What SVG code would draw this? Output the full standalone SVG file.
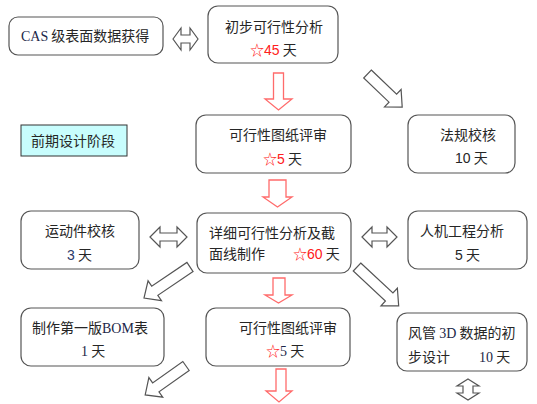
<svg xmlns="http://www.w3.org/2000/svg" width="537" height="404" viewBox="0 0 537 404">
<style>
.box{fill:#fff;stroke:#555;stroke-width:1.2}
.t{font-family:"Noto Sans CJK SC","Liberation Sans",sans-serif;font-size:14px;fill:#262626}
.r{fill:#ff2020}
.s{font-family:"Liberation Serif","Noto Sans CJK SC",serif;fill:#1c2748}
.n{font-family:"Liberation Sans",sans-serif}
.ra{fill:#fff;stroke:#ff6b6b;stroke-width:1.3}
.ga{fill:#fff;stroke:#555;stroke-width:1.2}
</style>
<rect width="537" height="404" fill="#fff"/>
<g id="connectors">
<path class="ga" d="M173,39 L181,28 L181,35 L190,35 L190,28 L198,39 L190,50 L190,43 L181,43 L181,50 Z"/>
<path class="ga" d="M150,237 L160,227 L160,233 L177,233 L177,227 L187,237 L177,247 L177,241 L160,241 L160,247 Z"/>
<path class="ga" d="M362,237 L372,227 L372,233 L387,233 L387,227 L397,237 L387,247 L387,241 L372,241 L372,247 Z"/>
<path class="ga" d="M468,379 L479,386 L473,386 L473,393 L479,393 L468,400 L457,393 L463,393 L463,386 L457,386 Z"/>
<path class="ra" d="M273.5,73 L283.5,73 L283.5,99 L292,99 L278.5,110 L265,99 L273.5,99 Z"/>
<path class="ra" d="M269,180 L286,180 L286,197 L292,197 L277.5,207 L263,197 L269,197 Z"/>
<path class="ra" d="M273,278 L285,278 L285,295 L292,295 L278.5,303 L265,295 L273,295 Z"/>
<path class="ra" d="M276,369 L286,369 L286,391 L292,391 L279,402 L266,391 L276,391 Z"/>
<path class="ga" transform="translate(367.5,74) rotate(43.7)" d="M0,-5.5 L35,-5.5 L35,-12 L48,0 L35,12 L35,5.5 L0,5.5 Z"/>
<path class="ga" transform="translate(357,267) rotate(43)" d="M0,-5.5 L44,-5.5 L44,-12 L57,0 L44,12 L44,5.5 L0,5.5 Z"/>
<path class="ga" transform="translate(190,267) rotate(146)" d="M0,-5.5 L42.5,-5.5 L42.5,-12 L55.5,0 L42.5,12 L42.5,5.5 L0,5.5 Z"/>
<path class="ga" transform="translate(186,366) rotate(144.7)" d="M0,-5.5 L37,-5.5 L37,-12 L50,0 L37,12 L37,5.5 L0,5.5 Z"/>
</g>
<g id="n1"><rect class="box" x="9" y="17" width="154" height="38" rx="9"/>
<text class="t" x="21" y="41"><tspan class="s">CAS</tspan> 级表面数据获得</text></g>
<g id="n2"><rect class="box" x="208" y="6" width="130" height="57" rx="10"/>
<text class="t" x="225" y="32">初步可行性分析</text>
<text class="t" x="250" y="55"><tspan class="r">☆<tspan class="n">45</tspan></tspan> 天</text></g>
<g id="n3"><rect class="box" x="196" y="115" width="155" height="58" rx="10"/>
<text class="t" x="229" y="140">可行性图纸评审</text>
<text class="t" x="263" y="164"><tspan class="r">☆<tspan class="n">5</tspan></tspan> 天</text></g>
<g id="n4"><rect class="box" x="408" y="115" width="107" height="58" rx="10"/>
<text class="t" x="440" y="140">法规校核</text>
<text class="t" x="455" y="163"><tspan class="n">10</tspan> 天</text></g>
<g id="n5"><rect x="21" y="125" width="106" height="31" fill="#c8fdfd" stroke="#333" stroke-width="1"/>
<text class="t" x="73" y="146" text-anchor="middle">前期设计阶段</text></g>
<g id="n6"><rect class="box" x="21" y="211" width="118" height="58" rx="10"/>
<text class="t" x="45" y="236">运动件校核</text>
<text class="t" x="67" y="260"><tspan class="n" fill="#2b3a6a">3</tspan> 天</text></g>
<g id="n7"><rect class="box" x="197" y="213" width="154" height="60" rx="10"/>
<text class="t" x="209" y="238">详细可行性分析及截</text>
<text class="t" x="209" y="259">面线制作</text>
<text class="t" x="293" y="259"><tspan class="r">☆<tspan class="n">60</tspan></tspan> 天</text></g>
<g id="n8"><rect class="box" x="408" y="211" width="119" height="58" rx="10"/>
<text class="t" x="420" y="236">人机工程分析</text>
<text class="t" x="455" y="260"><tspan class="n">5</tspan> 天</text></g>
<g id="n9"><rect class="box" x="21" y="308" width="143" height="58" rx="10"/>
<text class="t" x="32" y="333">制作第一版<tspan class="s">BOM</tspan>表</text>
<text class="t" x="81" y="356"><tspan class="s">1</tspan> 天</text></g>
<g id="n10"><rect class="box" x="206" y="308" width="144" height="58" rx="10"/>
<text class="t" x="239" y="333">可行性图纸评审</text>
<text class="t" x="266" y="356"><tspan class="r">☆<tspan class="s">5</tspan></tspan> 天</text></g>
<g id="n11"><rect class="box" x="397" y="313" width="130" height="58" rx="10"/>
<text class="t" x="408" y="338">风管 <tspan class="s" fill="#1f4aa0">3D</tspan> 数据的初</text>
<text class="t" x="408" y="362">步设计</text>
<text class="t" x="479" y="362"><tspan class="s">10</tspan> 天</text></g>
</svg>
